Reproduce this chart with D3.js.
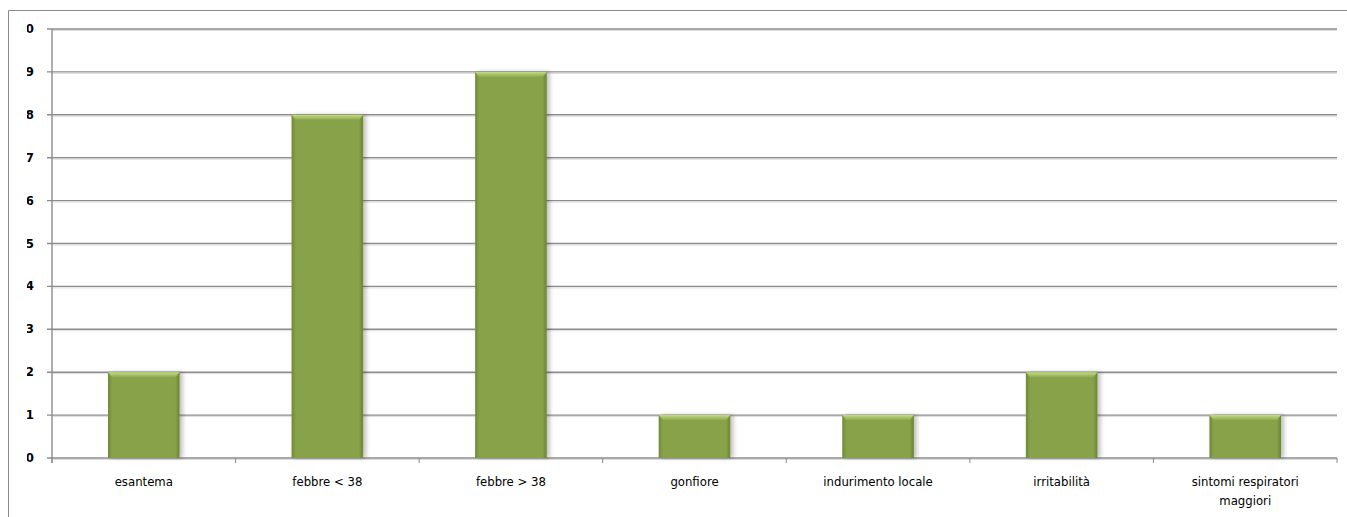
<!DOCTYPE html>
<html>
<head>
<meta charset="utf-8">
<script src="https://cdn.jsdelivr.net/npm/d3@7"></script>
<style>
  body { margin: 0; background: #fff; }
</style>
</head>
<body>
<div id="chart"></div>
<script>
var categories = ['esantema', 'febbre < 38', 'febbre > 38', 'gonfiore', 'indurimento locale', 'irritabilità', 'sintomi respiratori maggiori'];
var values = [2, 8, 9, 1, 1, 2, 1];
var yTicks = [0, 1, 2, 3, 4, 5, 6, 7, 8, 9, 10];

var width = 1347, height = 517;
var plotLeft = 52, plotRight = 1337, plotTop = 29, plotBottom = 458;
var labelFont = '"Liberation Sans Narrow", "DejaVu Sans Condensed", "Arial Narrow", sans-serif';

var svg = d3.select('#chart').append('svg')
    .attr('width', width)
    .attr('height', height);

var defs = svg.append('defs');
var grad = defs.append('linearGradient').attr('id', 'barGrad')
    .attr('x1', 0).attr('x2', 1).attr('y1', 0).attr('y2', 0);
grad.append('stop').attr('offset', '0%').attr('stop-color', '#6e8a34');
grad.append('stop').attr('offset', '6%').attr('stop-color', '#87a24a');
grad.append('stop').attr('offset', '94%').attr('stop-color', '#87a24a');
grad.append('stop').attr('offset', '100%').attr('stop-color', '#6a8431');
var topGrad = defs.append('linearGradient').attr('id', 'topGrad')
    .attr('x1', 0).attr('x2', 0).attr('y1', 0).attr('y2', 1);
topGrad.append('stop').attr('offset', '0%').attr('stop-color', '#c3dc84');
topGrad.append('stop').attr('offset', '100%').attr('stop-color', '#8ea94f');
defs.append('filter').attr('id', 'shadow').attr('x', '-20%').attr('width', '150%')
  .append('feDropShadow').attr('dx', 3).attr('dy', 0).attr('stdDeviation', 2)
    .attr('flood-color', '#000').attr('flood-opacity', 0.25);
defs.append('clipPath').attr('id', 'yClip')
  .append('rect').attr('x', 27).attr('y', 0).attr('width', 20).attr('height', height);

// outer frame
svg.append('path')
    .attr('d', 'M8.5,' + height + ' V10.5 H' + width)
    .attr('fill', 'none').attr('stroke', '#8a8a8a').attr('stroke-width', 1);

var x = d3.scaleBand().domain(categories).range([plotLeft, plotRight]).padding(0);
var y = d3.scaleLinear().domain([0, 10]).range([plotBottom, plotTop]);
var barW = x.bandwidth() * 0.39;

// gridlines
svg.append('g').selectAll('line').data(yTicks).join('line')
    .attr('x1', plotLeft - 5).attr('x2', plotRight)
    .attr('y1', d => y(d)).attr('y2', d => y(d))
    .attr('stroke', '#8c8c8c').attr('stroke-width', 1.4);
svg.append('g').selectAll('line').data(yTicks).join('line')
    .attr('x1', plotLeft).attr('x2', plotRight)
    .attr('y1', d => y(d) + 1.5).attr('y2', d => y(d) + 1.5)
    .attr('stroke', '#dcdcdc').attr('stroke-width', 1);

// y axis line
svg.append('line')
    .attr('x1', plotLeft).attr('x2', plotLeft)
    .attr('y1', plotTop).attr('y2', plotBottom + 5)
    .attr('stroke', '#8c8c8c').attr('stroke-width', 1.4);

// y labels (clipped like the original)
svg.append('g').attr('clip-path', 'url(#yClip)')
  .selectAll('text').data(yTicks).join('text')
    .attr('x', 34).attr('y', d => y(d) + 4)
    .attr('text-anchor', 'end')
    .attr('font-family', labelFont).attr('font-weight', 'bold')
    .attr('font-size', '13px').attr('fill', '#000')
    .text(d => d);

// x axis ticks
var xTickPos = categories.map(c => x(c)).concat([plotRight]);
svg.append('g').selectAll('line').data(xTickPos).join('line')
    .attr('x1', d => d).attr('x2', d => d)
    .attr('y1', plotBottom).attr('y2', plotBottom + 5)
    .attr('stroke', '#8c8c8c').attr('stroke-width', 1);

// bars
var bars = svg.append('g').selectAll('g').data(values).join('g');
bars.append('rect')
    .attr('x', (d, i) => x(categories[i]) + (x.bandwidth() - barW) / 2)
    .attr('y', d => y(d))
    .attr('width', barW)
    .attr('height', d => plotBottom - y(d))
    .attr('fill', 'url(#barGrad)')
    .attr('filter', 'url(#shadow)');
bars.append('path')
    .attr('d', (d, i) => {
        var x0 = x(categories[i]) + (x.bandwidth() - barW) / 2, y0 = y(d);
        return 'M' + x0 + ',' + y0 + ' H' + (x0 + barW) + ' l-4,5 H' + (x0 + 4) + ' Z';
    })
    .attr('fill', 'url(#topGrad)');

// category labels
svg.append('g').selectAll('text').data(categories).join('text')
    .attr('x', d => x(d) + x.bandwidth() / 2)
    .attr('y', 486)
    .attr('text-anchor', 'middle')
    .attr('font-family', labelFont)
    .attr('font-size', '13px').attr('fill', '#000')
    .each(function (d) {
        var t = d3.select(this);
        var lines = d === 'sintomi respiratori maggiori' ? ['sintomi respiratori', 'maggiori'] : [d];
        lines.forEach(function (l, k) {
            t.append('tspan').attr('x', x(d) + x.bandwidth() / 2)
                .attr('dy', k === 0 ? 0 : 19).text(l);
        });
    });
</script>
</body>
</html>
